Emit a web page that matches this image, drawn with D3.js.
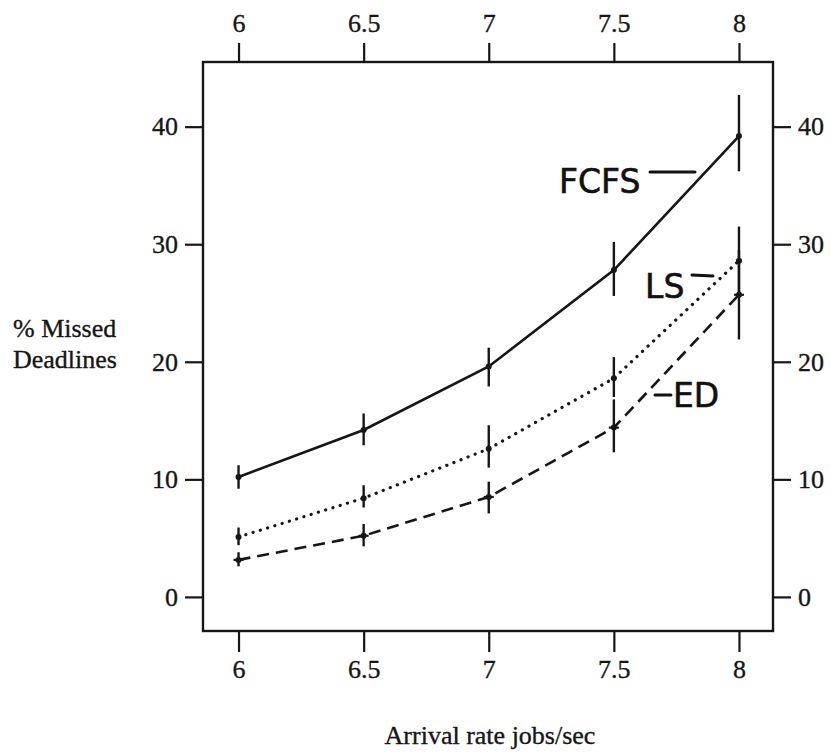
<!DOCTYPE html>
<html>
<head>
<meta charset="utf-8">
<script src="https://cdn.jsdelivr.net/npm/d3@7"></script>
<style>
  html, body { margin: 0; padding: 0; background: #fff; }
  svg { display: block; }
  .axis text { font-family: "Liberation Serif", "Times New Roman", serif; font-size: 26px; fill: #161616; stroke: #161616; stroke-width: 0.35px; }
  .axis line { stroke: #161616; stroke-width: 2.2; }
</style>
</head>
<body>
<svg id="chart" width="831" height="756"></svg>
<script>
// ---- data ----
const arrivalRates = [6, 6.5, 7, 7.5, 8];
const xTicks = [6, 6.5, 7, 7.5, 8];
const yTicks = [0, 10, 20, 30, 40];

const fcfs   = [10.2, 14.2, 19.6, 27.8, 39.2];
const fcfsLo = [9.2, 12.9, 17.9, 25.6, 36.2];
const fcfsHi = [11.2, 15.6, 21.2, 30.2, 42.7];

const ls   = [5.1, 8.4, 12.6, 18.6, 28.6];
const lsLo = [4.4, 7.6, 11.0, 17.0, 25.7];
const lsHi = [5.9, 9.5, 14.6, 20.4, 31.5];

const ed   = [3.15, 5.2, 8.5, 14.4, 25.7];
const edLo = [2.6, 4.3, 7.1, 12.3, 21.9];
const edHi = [3.8, 6.2, 9.8, 16.8, 29.5];

const seriesNames = ["FCFS", "LS", "ED"];
const yTitle = ["% Missed", "Deadlines"];
const xTitle = "Arrival rate jobs/sec";

// ---- layout ----
const pLeft = 203, pRight = 773, pTop = 62, pBottom = 631;
const svg = d3.select("#chart");

const x = d3.scaleLinear().domain([5.858, 8.136]).range([pLeft, pRight]);
const y = d3.scaleLinear().domain([-2.9, 45.5]).range([pBottom, pTop]);

const fmt = d => (d % 1 === 0 ? d3.format("d")(d) : d3.format(".1f")(d));

function styleAxis(g) {
  g.select(".domain").remove();
  g.attr("class", "axis");
  g.selectAll("text").attr("fill", "#161616");
}

svg.append("g").attr("transform", `translate(0,${pBottom})`)
  .call(d3.axisBottom(x).tickValues(xTicks).tickFormat(fmt).tickSize(21).tickPadding(8)).call(styleAxis);
svg.append("g").attr("transform", `translate(0,${pTop})`)
  .call(d3.axisTop(x).tickValues(xTicks).tickFormat(fmt).tickSize(19).tickPadding(11)).call(styleAxis);
svg.append("g").attr("transform", `translate(${pLeft},0)`)
  .call(d3.axisLeft(y).tickValues(yTicks).tickFormat(d3.format("d")).tickSize(18).tickPadding(7)).call(styleAxis);
svg.append("g").attr("transform", `translate(${pRight},0)`)
  .call(d3.axisRight(y).tickValues(yTicks).tickFormat(d3.format("d")).tickSize(18).tickPadding(7)).call(styleAxis);

// frame
svg.append("rect")
  .attr("x", pLeft).attr("y", pTop)
  .attr("width", pRight - pLeft).attr("height", pBottom - pTop)
  .attr("fill", "none").attr("stroke", "#161616").attr("stroke-width", 2.4);

// series
const series = [
  { name: "FCFS", v: fcfs, lo: fcfsLo, hi: fcfsHi, dash: null, cap: "none" },
  { name: "LS", v: ls, lo: lsLo, hi: lsHi, dash: "0.1,7.5", cap: "none" },
  { name: "ED", v: ed, lo: edLo, hi: edHi, dash: "12,7", cap: "cross" }
];

const line = d3.line().x((d, i) => x(arrivalRates[i])).y(d => y(d));

series.forEach(s => {
  const g = svg.append("g");
  g.append("path")
    .datum(s.v)
    .attr("d", line)
    .attr("fill", "none")
    .attr("stroke", "#161616")
    .attr("stroke-width", s.name === "LS" ? 3.2 : 2.6)
    .attr("stroke-linecap", s.name === "LS" ? "round" : "butt")
    .attr("stroke-dasharray", s.dash);
  g.selectAll("line.err")
    .data(s.v)
    .join("line")
    .attr("class", "err")
    .attr("x1", (d, i) => x(arrivalRates[i]))
    .attr("x2", (d, i) => x(arrivalRates[i]))
    .attr("y1", (d, i) => y(s.lo[i]))
    .attr("y2", (d, i) => y(s.hi[i]))
    .attr("stroke", "#161616")
    .attr("stroke-width", 2.4);
  g.selectAll("circle")
    .data(s.v)
    .join("circle")
    .attr("cx", (d, i) => x(arrivalRates[i]))
    .attr("cy", d => y(d))
    .attr("r", 3)
    .attr("fill", "#161616");
  if (s.cap === "cross") {
    g.selectAll("line.cross")
      .data(s.v)
      .join("line")
      .attr("class", "cross")
      .attr("x1", (d, i) => x(arrivalRates[i]) - 5)
      .attr("x2", (d, i) => x(arrivalRates[i]) + 5)
      .attr("y1", d => y(d))
      .attr("y2", d => y(d))
      .attr("stroke", "#161616")
      .attr("stroke-width", 2.2);
  }
});

// handwritten-style annotations
const annos = [
  { text: seriesNames[0], tx: 559, ty: 193, dash: [650, 172, 695, 172] },
  { text: seriesNames[1], tx: 645, ty: 298, dash: [692, 275, 713, 276] },
  { text: seriesNames[2], tx: 673, ty: 407, dash: [655, 395, 671, 395] }
];
annos.forEach(a => {
  svg.append("text")
    .attr("x", a.tx).attr("y", a.ty)
    .attr("font-family", "DejaVu Sans, sans-serif")
    .attr("font-size", 33)
    .attr("fill", "#111")
    .attr("stroke", "#111")
    .attr("stroke-width", 0.6)
    .text(a.text);
  svg.append("line")
    .attr("x1", a.dash[0]).attr("y1", a.dash[1])
    .attr("x2", a.dash[2]).attr("y2", a.dash[3])
    .attr("stroke", "#111").attr("stroke-width", 3).attr("stroke-linecap", "round");
});

// axis titles
const serif = "Liberation Serif, Times New Roman, serif";
svg.append("text")
  .attr("font-family", serif).attr("font-size", 26).attr("fill", "#161616")
  .attr("stroke", "#161616").attr("stroke-width", 0.35)
  .selectAll("tspan").data(yTitle).join("tspan")
  .attr("x", 13).attr("y", (d, i) => 337 + i * 31).text(d => d);

svg.append("text")
  .attr("x", 490).attr("y", 744)
  .attr("text-anchor", "middle")
  .attr("font-family", serif).attr("font-size", 26).attr("fill", "#161616")
  .attr("stroke", "#161616").attr("stroke-width", 0.35)
  .text(xTitle);
</script>
</body>
</html>
